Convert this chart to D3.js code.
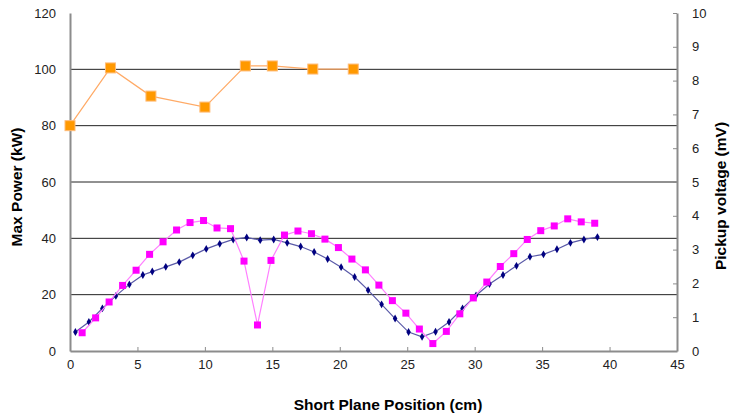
<!DOCTYPE html>
<html>
<head>
<meta charset="utf-8">
<script src="https://cdn.jsdelivr.net/npm/d3@7"></script>
<style>
  body { margin: 0; background: #fff; }
  text { font-family: "Liberation Sans", Arial, sans-serif; }
</style>
</head>
<body>
<div id="chart"></div>
<script>
// Max Power (kW) - left axis
const powerX = [0, 3, 6, 10, 13, 15, 18, 21];
const powerY = [80, 100.5, 90.5, 86.6, 101.2, 101.2, 100.1, 100.1];

// Pickup voltage (mV) - right axis, navy series
const navyX = [0.4, 1.4, 2.4, 3.4, 4.4, 5.4, 6.1, 7.1, 8.1, 9.1, 10.1, 11.1, 12.1, 13.1, 14.1, 15.1,
  16.1, 17.1, 18.1, 19.1, 20.1, 21.1, 22.1, 23.1, 24.1, 25.1, 26.1, 27.1, 28.1, 29.1, 30.1,
  31.1, 32.1, 33.1, 34.1, 35.1, 36.1, 37.1, 38.1, 39.1];
const navyY = [0.56, 0.86, 1.26, 1.63, 1.97, 2.25, 2.35, 2.49, 2.63, 2.83, 3.02, 3.17, 3.30, 3.36, 3.28, 3.30,
  3.20, 3.09, 2.93, 2.72, 2.48, 2.19, 1.80, 1.38, 0.96, 0.56, 0.42, 0.57, 0.86, 1.26, 1.64,
  1.98, 2.25, 2.52, 2.79, 2.86, 3.01, 3.20, 3.30, 3.37];

// Pickup voltage (mV) - right axis, magenta series
const pinkX = [0.9, 1.9, 2.9, 3.9, 4.9, 5.9, 6.9, 7.9, 8.9, 9.9, 10.9, 11.9, 12.9, 13.9, 14.9,
  15.9, 16.9, 17.9, 18.9, 19.9, 20.9, 21.9, 22.9, 23.9, 24.9, 25.9, 26.9, 27.9, 28.9, 29.9,
  30.9, 31.9, 32.9, 33.9, 34.9, 35.9, 36.9, 37.9, 38.9];
const pinkY = [0.54, 0.98, 1.45, 1.94, 2.39, 2.86, 3.23, 3.58, 3.80, 3.86, 3.64, 3.62, 2.66, 0.77, 2.68,
  3.43, 3.55, 3.47, 3.31, 3.06, 2.72, 2.40, 1.95, 1.49, 1.12, 0.65, 0.22, 0.58, 1.10, 1.57,
  2.04, 2.50, 2.88, 3.30, 3.56, 3.70, 3.91, 3.82, 3.78];

const xTicks = [0, 5, 10, 15, 20, 25, 30, 35, 40, 45];
const leftTicks = [0, 20, 40, 60, 80, 100, 120];
const rightTicks = [0, 1, 2, 3, 4, 5, 6, 7, 8, 9, 10];

const W = 733, H = 413;
const plotL = 70, plotR = 677, plotT = 13, plotB = 351;

const svg = d3.select('#chart').append('svg')
  .attr('width', W).attr('height', H);

const x = d3.scaleLinear().domain([0, 45]).range([plotL, plotR]);
const yL = d3.scaleLinear().domain([0, 120]).range([plotB, plotT]);
const yR = d3.scaleLinear().domain([0, 10]).range([plotB, plotT]);

// gridlines
svg.append('g').selectAll('line')
  .data(leftTicks.filter(d => d > 0 && d < 120))
  .enter().append('line')
  .attr('x1', plotL).attr('x2', plotR)
  .attr('y1', d => yL(d)).attr('y2', d => yL(d))
  .attr('stroke', '#222').attr('stroke-width', 1);

// axes
const xAxis = d3.axisBottom(x).tickValues(xTicks).tickSizeInner(-4).tickSizeOuter(0).tickPadding(9);
const yAxisL = d3.axisLeft(yL).tickValues(leftTicks).tickSize(0).tickPadding(14);
const yAxisR = d3.axisRight(yR).tickValues(rightTicks).tickSizeInner(-4).tickSizeOuter(0).tickPadding(15);

const xg = svg.append('g').attr('transform', 'translate(0,' + plotB + ')').call(xAxis);
const ylg = svg.append('g').attr('transform', 'translate(' + plotL + ',0)').call(yAxisL);
const yrg = svg.append('g').attr('transform', 'translate(' + plotR + ',0)').call(yAxisR);

[xg, ylg, yrg].forEach(g => {
  g.select('.domain').attr('stroke', '#8c8c8c').attr('stroke-width', 2);
  g.selectAll('.tick line').attr('stroke', '#8c8c8c');
  g.selectAll('.tick text').attr('font-size', 13).attr('fill', '#222')
    .attr('font-family', '"Liberation Sans", Arial, sans-serif');
});

// titles
svg.append('text').attr('x', 388).attr('y', 410)
  .attr('text-anchor', 'middle').attr('font-size', 15.5).attr('font-weight', 'bold')
  .text('Short Plane Position (cm)');
svg.append('text').attr('transform', 'translate(22,187) rotate(-90)')
  .attr('text-anchor', 'middle').attr('font-size', 15.5).attr('font-weight', 'bold')
  .text('Max Power (kW)');
svg.append('text').attr('transform', 'translate(726,196) rotate(-90)')
  .attr('text-anchor', 'middle').attr('font-size', 15.5).attr('font-weight', 'bold')
  .text('Pickup voltage (mV)');

// navy series
const navy = navyX.map((d, i) => [d, navyY[i]]);
svg.append('path').datum(navy)
  .attr('d', d3.line().x(d => x(d[0])).y(d => yR(d[1])))
  .attr('fill', 'none').attr('stroke', '#5a5aa8').attr('stroke-width', 1.2);
svg.append('g').selectAll('path').data(navy).enter().append('path')
  .attr('d', d3.symbol(d3.symbolDiamond, 18))
  .attr('transform', d => 'translate(' + x(d[0]) + ',' + yR(d[1]) + ')')
  .attr('fill', '#000080');

// magenta series
const pink = pinkX.map((d, i) => [d, pinkY[i]]);
svg.append('path').datum(pink)
  .attr('d', d3.line().x(d => x(d[0])).y(d => yR(d[1])))
  .attr('fill', 'none').attr('stroke', '#ff7fff').attr('stroke-width', 1.2);
svg.append('g').selectAll('rect').data(pink).enter().append('rect')
  .attr('x', d => x(d[0]) - 3.5).attr('y', d => yR(d[1]) - 3.5)
  .attr('width', 7).attr('height', 7)
  .attr('fill', '#ff00ff');

// orange series
const power = powerX.map((d, i) => [d, powerY[i]]);
svg.append('path').datum(power)
  .attr('d', d3.line().x(d => x(d[0])).y(d => yL(d[1])))
  .attr('fill', 'none').attr('stroke', '#ffaa66').attr('stroke-width', 1.2);
svg.append('g').selectAll('rect').data(power).enter().append('rect')
  .attr('x', d => x(d[0]) - 5).attr('y', d => yL(d[1]) - 5)
  .attr('width', 10).attr('height', 10)
  .attr('fill', '#ff9900').attr('stroke', '#ffbb77').attr('stroke-width', 1);
</script>
</body>
</html>
